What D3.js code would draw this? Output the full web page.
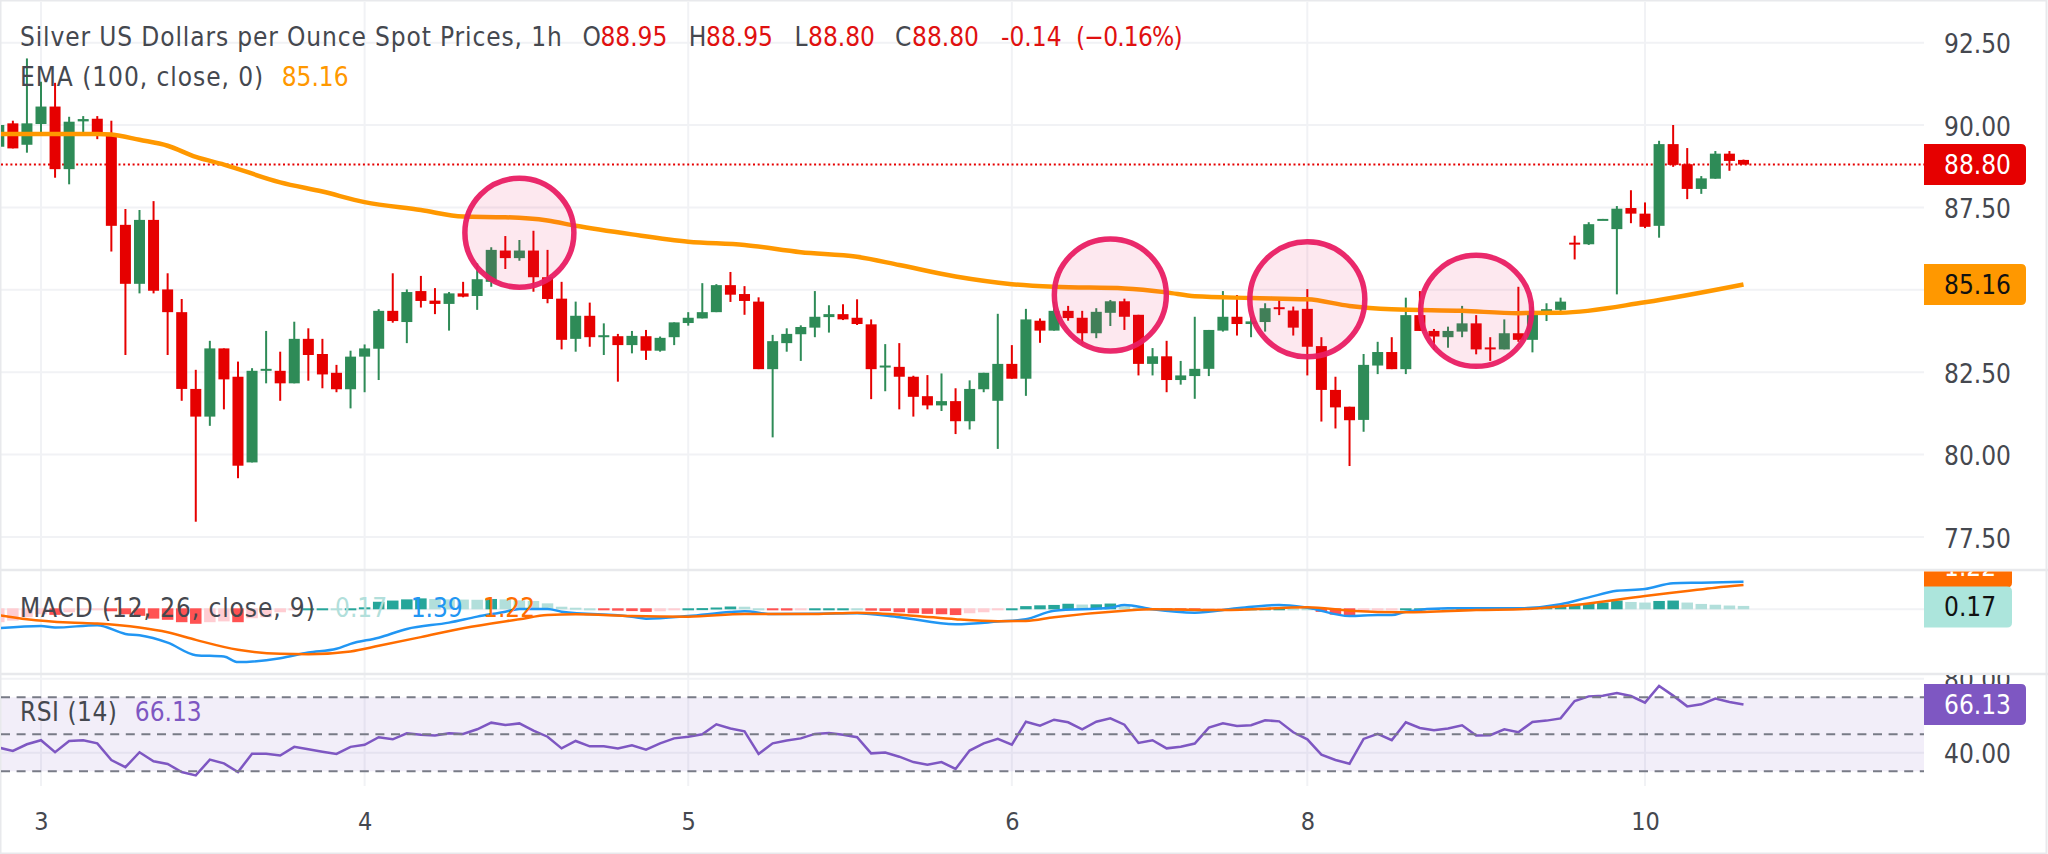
<!DOCTYPE html>
<html>
<head>
<meta charset="utf-8">
<script src="https://cdn.jsdelivr.net/npm/d3@7"></script>
<style>
html, body { margin: 0; padding: 0; background: #fff; overflow: hidden; }
svg { display: block; }
text { font-family: "DejaVu Sans Condensed", "DejaVu Sans", sans-serif; font-stretch: condensed; }
</style>
</head>
<body>
<svg id="chart" width="2048" height="854"></svg>
<script>
'use strict';

// bar numbers start at -3 so that bar 0 sits on the "3" tick
var firstBar = -3;
var dayLabels = ['3', '4', '5', '6', '8', '10'];
var dayBars = [0, 23, 46, 69, 90, 114];
var priceTicks = [77.5, 80, 82.5, 85, 87.5, 90, 92.5];
// 85.00 sits under the EMA badge, so it gets a grid line but no label
var priceLabels = [77.5, 80, 82.5, 87.5, 90, 92.5];
var rsiTicks = [40, 80];
var rsiBands = [70, 50, 30];

var open = [89.34,90.05,89.40,90.03,90.56,88.66,90.11,90.19,89.67,86.97,85.18,87.12,85.01,84.32,81.99,81.15,83.22,82.36,79.76,82.56,82.54,82.16,83.51,83.05,82.48,
	81.98,82.97,83.21,84.36,84.02,84.96,84.67,84.57,84.89,84.81,85.24,86.19,85.96,86.19,85.38,84.73,83.51,84.21,83.58,83.59,83.32,83.59,83.15,83.56,83.99,
	84.13,84.32,85.14,84.87,84.64,82.59,83.38,83.65,83.85,84.17,84.26,84.15,83.95,82.65,82.66,82.36,81.77,81.49,81.62,81.01,81.98,81.63,82.75,82.30,84.06,
	83.76,84.36,84.15,83.68,84.30,84.65,84.24,82.75,82.98,82.26,82.38,82.60,83.76,84.18,83.96,84.02,84.47,84.37,84.42,83.29,81.96,81.45,81.05,82.70,83.11,
	82.59,84.23,83.75,83.56,83.73,83.98,83.25,83.19,83.68,83.48,84.32,84.39,86.43,86.38,87.12,86.84,87.48,87.31,86.94,89.42,88.81,88.06,88.37,89.13,88.94];
var high = [90.00,90.13,92.02,91.31,91.28,90.25,90.27,90.27,90.13,87.45,87.42,87.69,85.50,84.72,82.57,83.45,83.22,82.82,82.62,83.75,83.12,84.03,83.83,83.51,82.72,
	83.15,83.34,84.41,85.50,85.01,85.42,85.05,84.93,85.24,85.80,86.29,86.63,86.51,86.79,86.21,85.24,84.64,84.61,83.98,83.66,83.75,83.78,83.58,84.01,84.32,
	85.20,85.17,85.54,85.11,84.77,83.63,83.83,83.92,84.96,84.53,84.56,84.71,84.10,83.35,83.38,82.39,82.41,82.46,82.01,82.25,82.48,84.27,83.32,84.42,84.13,
	84.64,84.51,84.36,84.44,84.69,84.73,84.24,83.23,83.45,82.84,84.18,83.78,84.96,84.84,84.18,84.59,84.76,84.49,85.02,83.56,82.36,81.45,83.05,83.42,83.56,
	84.76,84.96,83.81,83.88,84.51,84.23,83.56,84.10,85.09,84.49,84.59,84.76,86.64,87.05,87.15,87.54,88.02,87.65,89.52,90.00,89.30,88.45,89.21,89.21,88.95];
var low = [89.34,89.29,89.16,89.77,88.40,88.20,89.73,89.57,86.16,83.02,84.89,84.89,83.02,81.63,77.96,80.87,81.37,79.28,79.76,82.16,81.63,82.16,82.24,82.01,81.89,
	81.40,81.89,82.26,84.00,83.38,84.46,84.26,83.76,84.77,84.39,85.09,85.63,85.88,84.94,84.59,83.19,83.12,83.27,83.02,82.21,83.07,82.87,83.12,83.32,83.91,
	84.13,84.32,84.63,84.24,82.59,80.52,83.12,82.84,83.56,83.70,84.08,83.93,81.68,81.92,81.37,81.15,81.37,81.32,80.62,80.76,81.89,80.17,82.30,81.78,83.39,
	83.76,84.06,83.35,83.53,83.90,83.78,82.40,82.40,81.89,82.12,81.69,82.38,83.73,83.61,83.56,83.73,84.23,83.61,82.40,81.00,80.79,79.65,80.69,82.44,82.59,
	82.44,83.75,83.17,83.24,83.56,83.04,82.84,83.19,83.42,83.10,84.05,84.27,85.92,86.36,87.12,84.86,87.02,86.87,86.58,88.73,87.75,87.91,88.37,88.61,88.80];
var close = [90.00,89.29,90.05,90.56,88.66,90.10,90.18,89.67,86.94,85.18,87.12,84.97,84.32,81.99,81.15,83.22,82.28,79.66,82.54,82.60,82.16,83.51,83.02,82.43,81.98,
	82.97,83.22,84.36,84.05,84.93,84.66,84.57,84.89,84.79,85.32,86.21,85.96,86.19,85.38,84.72,83.48,84.21,83.56,83.62,83.32,83.60,83.15,83.54,84.01,84.15,
	84.32,85.14,84.85,84.66,82.59,83.44,83.66,83.87,84.18,84.26,84.10,83.96,82.59,82.70,82.36,81.75,81.49,81.62,81.01,81.99,82.48,82.75,82.30,84.10,83.76,
	84.36,84.14,83.68,84.33,84.65,84.18,82.75,82.98,82.26,82.40,82.60,83.78,84.18,83.96,84.04,84.44,84.41,83.85,83.27,81.96,81.43,81.04,82.72,83.11,82.59,
	84.23,83.75,83.58,83.75,83.98,83.19,83.20,83.68,83.48,84.33,84.41,84.64,86.40,86.99,87.15,87.46,87.31,86.91,89.42,88.79,88.06,88.38,89.13,88.91,88.80];

var emaBars = [-3,4,5,7,9,11,13,17,20,23,27,30,33,36,38,42,46,50,54,58,61,65,69,72,77,80,82,86,90,93,96,101,105,108,114,121];
var emaValues = [89.73,89.73,89.71,89.55,89.37,89.03,88.80,88.26,87.98,87.66,87.42,87.22,87.20,87.10,86.94,86.68,86.46,86.36,86.14,86.00,85.75,85.40,85.17,85.09,85.04,84.92,84.80,84.75,84.71,84.51,84.41,84.36,84.29,84.30,84.62,85.16];

// highlighted zones on the price pane
var zoneBars = [34, 76, 90, 102];
var zonePrices = [86.73, 84.84, 84.71, 84.36];
var zoneRadius = [54.5, 56, 57.5, 55.5];

var histValues = [-.70,-.62,-.45,-.30,-.33,-.20,-.10,-.06,-.15,-.30,-.38,-.52,-.58,-.70,-.78,-.70,-.66,-.70,-.50,-.45,-.20,-.08,.03,.04,.03,
	.05,.10,.38,.44,.50,.55,.52,.50,.49,.48,.52,.50,.45,.42,.30,.13,.08,.03,-.10,-.12,-.14,-.18,-.15,-.10,.05,
	.06,.09,.14,.13,.02,-.10,-.11,-.05,.03,.04,.05,.03,-.12,-.14,-.20,-.25,-.28,-.30,-.34,-.25,-.20,-.10,.05,.16,.20,
	.22,.28,.24,.25,.29,.15,.08,.03,-.05,-.07,-.10,-.05,-.03,.01,.02,.03,.05,.04,.01,-.18,-.32,-.38,-.15,-.08,-.05,
	.04,.05,.06,.06,.07,.07,.08,.09,.10,.12,.14,.17,.22,.30,.34,.44,.37,.34,.42,.44,.34,.27,.23,.19,.17];

var macdBars = [-3,0,1,4,6,7,9,11,13,14,17,19,21,22,24,26,29,31,33,34,36,37,42,43,46,49,50,52,58,61,65,68,70,72,76,77,79,82,85,88,90,93,95,96,97,100,105,108,110,112,114,116,118,121];
var macdValues = [-.95,-.84,-.92,-.80,-1.24,-1.31,-1.68,-2.31,-2.38,-2.66,-2.46,-2.18,-1.99,-1.74,-1.43,-.99,-.67,-.37,-.12,.02,.02,-.12,-.37,-.47,-.34,-.14,-.10,-.24,-.20,-.40,-.75,-.62,-.50,-.07,.08,.22,0,-.17,.05,.22,.08,-.34,-.29,-.29,-.12,.05,.05,.25,.60,.93,1.02,1.31,1.34,1.39];
var signalBars = [-3,-1,2,4,7,9,11,14,17,19,22,24,27,30,34,36,38,42,46,50,55,58,62,65,68,70,72,77,79,84,90,93,97,102,106,109,114,117,119,121];
var signalValues = [-.29,-.50,-.67,-.72,-.92,-1.16,-1.54,-2.04,-2.24,-2.26,-2.12,-1.84,-1.40,-.95,-.50,-.29,-.25,-.34,-.37,-.24,-.24,-.17,-.32,-.50,-.60,-.59,-.40,-.07,0,-.04,.10,-.07,-.15,-.04,.03,.22,.67,.92,1.09,1.22];

var rsiValues = [42.8,41.0,44.6,46.8,40.3,46.4,46.8,45.1,36.1,32.2,40.3,35.4,34.0,29.6,27.8,36.3,34.3,29.6,39.5,39.5,38.5,43.2,41.9,40.6,39.4,
	43.2,44.3,48.4,47.3,50.5,49.8,49.3,50.5,50.2,52.7,56.3,55.0,55.9,52.0,48.7,42.4,46.4,43.5,43.5,42.3,44.1,41.7,45.1,47.8,48.7,
	50.0,55.4,53.1,51.6,39.4,45.1,46.6,47.8,50.2,50.7,49.8,48.4,39.7,40.1,37.9,35.0,33.6,35.0,31.3,41.2,45.1,47.5,44.4,56.8,54.7,
	57.9,56.5,52.7,56.8,58.6,55.2,45.3,46.8,42.4,43.3,45.0,53.6,55.9,54.5,54.9,57.6,57.0,51.1,47.3,39.0,36.1,34.1,47.5,50.2,46.8,
	56.5,53.4,52.2,53.1,54.9,49.3,49.5,52.7,51.1,56.7,57.4,58.6,68.0,70.5,70.9,72.3,70.7,67.1,76.1,70.9,65.1,66.2,69.3,67.5,66.13];

var w = 2048;
var h = 854;
var plotRight = 1924;
var axisX = 1944;

var red = '#e60000';
var green = '#2e8b57';
var emaColor = '#ff9800';
var macdColor = '#2196f3';
var signalColor = '#ff6d00';
var rsiColor = '#7e57c2';
var zoneColor = '#e91e63';
var gridColor = '#f1f2f5';
var paneLine = '#e8e9ec';
var textColor = '#45484f';

var x = d3.scaleLinear().domain([0, 121]).range([41, 1743.5]);
var yPrice = d3.scaleLinear().domain([80, 90]).range([454.5, 125]);
var yMacd = d3.scaleLinear().domain([0, 1.39]).range([609.3, 581.7]);
var yRsi = d3.scaleLinear().domain([30, 70]).range([771.3, 697.3]);

var svg = d3.select('#chart');
var fmt = d3.format('.2f');
var barAt = function(i) { return i + firstBar; };

var defs = svg.append('defs');
defs.append('clipPath').attr('id', 'plotClip').append('rect')
	.attr('x', 1).attr('y', 2).attr('width', plotRight - 1).attr('height', 850);
defs.append('clipPath').attr('id', 'rsiAxisClip').append('rect')
	.attr('x', plotRight).attr('y', 675).attr('width', w - plotRight).attr('height', 120);

// panes and grid
var grid = svg.append('g');
grid.selectAll('.day').data(dayBars).enter().append('line')
	.attr('x1', function(d) { return x(d); })
	.attr('x2', function(d) { return x(d); })
	.attr('y1', 2).attr('y2', 786)
	.attr('stroke', gridColor).attr('stroke-width', 2);
grid.selectAll('.price').data(priceTicks).enter().append('line')
	.attr('x1', 1).attr('x2', plotRight)
	.attr('y1', function(d) { return yPrice(d); })
	.attr('y2', function(d) { return yPrice(d); })
	.attr('stroke', gridColor).attr('stroke-width', 2);
grid.append('line')
	.attr('x1', 1).attr('x2', plotRight)
	.attr('y1', yMacd(0)).attr('y2', yMacd(0))
	.attr('stroke', gridColor).attr('stroke-width', 2);
grid.selectAll('.rsi').data(rsiTicks).enter().append('line')
	.attr('x1', 1).attr('x2', plotRight)
	.attr('y1', function(d) { return yRsi(d); })
	.attr('y2', function(d) { return yRsi(d); })
	.attr('stroke', gridColor).attr('stroke-width', 2);

svg.append('rect')
	.attr('x', 1).attr('width', plotRight - 1)
	.attr('y', yRsi(70)).attr('height', yRsi(30) - yRsi(70))
	.attr('fill', rsiColor).attr('fill-opacity', 0.1);

svg.selectAll('.pane').data([570, 674]).enter().append('line')
	.attr('x1', 0).attr('x2', w)
	.attr('y1', function(d) { return d; })
	.attr('y2', function(d) { return d; })
	.attr('stroke', paneLine).attr('stroke-width', 2.5);
svg.append('rect').attr('x', 0.5).attr('y', 0.5).attr('width', w - 2).attr('height', h - 1)
	.attr('fill', 'none').attr('stroke', paneLine).attr('stroke-width', 2);

// price pane
var plot = svg.append('g').attr('clip-path', 'url(#plotClip)');

plot.append('line')
	.attr('x1', 1).attr('x2', plotRight)
	.attr('y1', yPrice(close[close.length - 1])).attr('y2', yPrice(close[close.length - 1]))
	.attr('stroke', red).attr('stroke-width', 2).attr('stroke-dasharray', '2 2.7');

var barW = 11;
var candle = plot.selectAll('.candle').data(open).enter().append('g');
candle.append('line')
	.attr('x1', function(d, i) { return x(barAt(i)); })
	.attr('x2', function(d, i) { return x(barAt(i)); })
	.attr('y1', function(d, i) { return yPrice(high[i]); })
	.attr('y2', function(d, i) { return yPrice(low[i]); })
	.attr('stroke', function(d, i) { return close[i] >= d ? green : red; })
	.attr('stroke-width', 2);
candle.append('rect')
	.attr('x', function(d, i) { return x(barAt(i)) - barW / 2; })
	.attr('width', barW)
	.attr('y', function(d, i) { return yPrice(Math.max(d, close[i])); })
	.attr('height', function(d, i) { return Math.max(2, Math.abs(yPrice(d) - yPrice(close[i]))); })
	.attr('fill', function(d, i) { return close[i] >= d ? green : red; });

var emaLine = d3.line()
	.x(function(d, i) { return x(emaBars[i]); })
	.y(function(d) { return yPrice(d); })
	.curve(d3.curveMonotoneX);
plot.append('path').datum(emaValues)
	.attr('d', emaLine)
	.attr('fill', 'none').attr('stroke', emaColor).attr('stroke-width', 4.5);

plot.selectAll('.zone').data(zoneBars).enter().append('circle')
	.attr('cx', function(d) { return x(d); })
	.attr('cy', function(d, i) { return yPrice(zonePrices[i]); })
	.attr('r', function(d, i) { return zoneRadius[i]; })
	.attr('fill', zoneColor).attr('fill-opacity', 0.1)
	.attr('stroke', zoneColor).attr('stroke-opacity', 0.95).attr('stroke-width', 5.5);

// MACD pane
var histColor = function(d, i) {
	var prev = i > 0 ? histValues[i - 1] : d;
	if (d >= 0) return d > prev ? '#26a69a' : '#b2dfdb';
	return d < prev ? '#ff5252' : '#ffcdd2';
};
plot.selectAll('.hist').data(histValues).enter().append('rect')
	.attr('x', function(d, i) { return x(barAt(i)) - 5.75; })
	.attr('width', 11.5)
	.attr('y', function(d) { return Math.min(yMacd(d), yMacd(0) - 1); })
	.attr('height', function(d) { return Math.max(2, Math.abs(yMacd(d) - yMacd(0))); })
	.attr('fill', histColor);

var macdLine = d3.line()
	.x(function(d, i) { return x(macdBars[i]); })
	.y(function(d) { return yMacd(d); })
	.curve(d3.curveMonotoneX);
var signalLine = d3.line()
	.x(function(d, i) { return x(signalBars[i]); })
	.y(function(d) { return yMacd(d); })
	.curve(d3.curveMonotoneX);
plot.append('path').datum(macdValues).attr('d', macdLine)
	.attr('fill', 'none').attr('stroke', macdColor).attr('stroke-width', 2.5);
plot.append('path').datum(signalValues).attr('d', signalLine)
	.attr('fill', 'none').attr('stroke', signalColor).attr('stroke-width', 2.5);

// RSI pane
svg.selectAll('.band').data(rsiBands).enter().append('line')
	.attr('x1', 1).attr('x2', plotRight)
	.attr('y1', function(d) { return yRsi(d); })
	.attr('y2', function(d) { return yRsi(d); })
	.attr('stroke', '#787b86').attr('stroke-width', 2).attr('stroke-dasharray', '9 6.6');

var rsiLine = d3.line()
	.x(function(d, i) { return x(barAt(i)); })
	.y(function(d) { return yRsi(d); });
plot.append('path').datum(rsiValues).attr('d', rsiLine)
	.attr('fill', 'none').attr('stroke', rsiColor).attr('stroke-width', 2.5);

// axes
var styleAxis = function(g) {
	g.select('.domain').remove();
	g.selectAll('line').remove();
	g.selectAll('text').attr('font-size', 26).attr('fill', textColor);
	g.attr('font-family', null);
};

svg.append('g').attr('transform', 'translate(' + axisX + ',2)')
	.call(d3.axisRight(yPrice).tickValues(priceLabels).tickFormat(fmt).tickSize(0).tickPadding(0))
	.call(styleAxis);

svg.append('g').attr('clip-path', 'url(#rsiAxisClip)')
	.append('g').attr('transform', 'translate(' + axisX + ',1.5)')
	.call(d3.axisRight(yRsi).tickValues(rsiTicks).tickFormat(fmt).tickSize(0).tickPadding(0))
	.call(styleAxis);

svg.append('g').attr('transform', 'translate(0,821)')
	.call(d3.axisBottom(x).tickValues(dayBars)
		.tickFormat(function(d, i) { return dayLabels[i]; }).tickSize(0).tickPadding(0))
	.call(styleAxis)
	.selectAll('text').attr('y', 0).attr('dy', '.35em').attr('font-size', 25);

// value badges on the axis
var badge = function(yc, bw, fill, color, label) {
	var g = svg.append('g');
	g.append('path')
		.attr('d', 'M' + plotRight + ',' + (yc - 20.5) + 'H' + (plotRight + bw - 5)
			+ 'q5,0 5,5V' + (yc + 15.5) + 'q0,5 -5,5H' + plotRight + 'Z')
		.attr('fill', fill);
	g.append('text').attr('x', axisX).attr('y', yc).attr('dy', '.35em')
		.attr('font-size', 26).attr('fill', color).text(label);
	return g;
};

// the signal badge stacks above the histogram badge and the pane edge cuts it off
defs.append('clipPath').attr('id', 'macdAxisClip').append('rect')
	.attr('x', plotRight).attr('y', 571.5).attr('width', w - plotRight).attr('height', 100);
var macdAxis = svg.append('g').attr('clip-path', 'url(#macdAxisClip)');
var histY = yMacd(histValues[histValues.length - 1]) + 1;
var signalBadge = badge(histY - 40, 88, signalColor, '#fff', fmt(signalValues[signalValues.length - 1]));
macdAxis.node().appendChild(signalBadge.node());
var histBadge = badge(histY, 88, '#ace5dc', '#111', fmt(histValues[histValues.length - 1]));
macdAxis.node().appendChild(histBadge.node());

badge(yPrice(close[close.length - 1]), 102, red, '#fff', fmt(close[close.length - 1]));
badge(yPrice(emaValues[emaValues.length - 1]), 102, emaColor, '#111', fmt(emaValues[emaValues.length - 1]));
badge(yRsi(rsiValues[rsiValues.length - 1]), 102, rsiColor, '#fff', fmt(rsiValues[rsiValues.length - 1]));

// legends
var legend = svg.append('g').attr('font-size', 26);
var put = function(px, py, color, label, spacing) {
	legend.append('text').attr('x', px).attr('y', py).attr('fill', color)
		.attr('letter-spacing', spacing || 0)
		.style('white-space', 'pre').text(label);
};
var headRed = '#e01010';
put(20, 45.5, textColor, 'Silver US Dollars per Ounce Spot Prices, 1h', 0.88);
put(582.6, 45.5, textColor, 'O');
put(600.4, 45.5, headRed, fmt(open[open.length - 1] + 0.01));
put(688.8, 45.5, textColor, 'H');
put(706, 45.5, headRed, fmt(high[high.length - 1]));
put(794.6, 45.5, textColor, 'L');
put(808, 45.5, headRed, fmt(low[low.length - 1]));
put(895, 45.5, textColor, 'C');
put(912, 45.5, headRed, fmt(close[close.length - 1]));
put(1001, 45.5, headRed, '-0.14');
put(1076, 45.5, headRed, '(\u22120.16%)', -0.8);
put(20, 86, textColor, 'EMA (100, close, 0)', 0.95);
put(281.7, 86, emaColor, fmt(emaValues[emaValues.length - 1]));
put(20, 617, textColor, 'MACD (12, 26, close, 9)', 0.9);
put(335, 617, '#b2dfdb', fmt(histValues[histValues.length - 1]));
put(410.7, 617, macdColor, fmt(macdValues[macdValues.length - 1]));
put(483, 617, signalColor, fmt(signalValues[signalValues.length - 1]));
put(20, 721, textColor, 'RSI (14)', 0.5);
put(134.8, 721, rsiColor, fmt(rsiValues[rsiValues.length - 1]));
</script>
</body>
</html>
